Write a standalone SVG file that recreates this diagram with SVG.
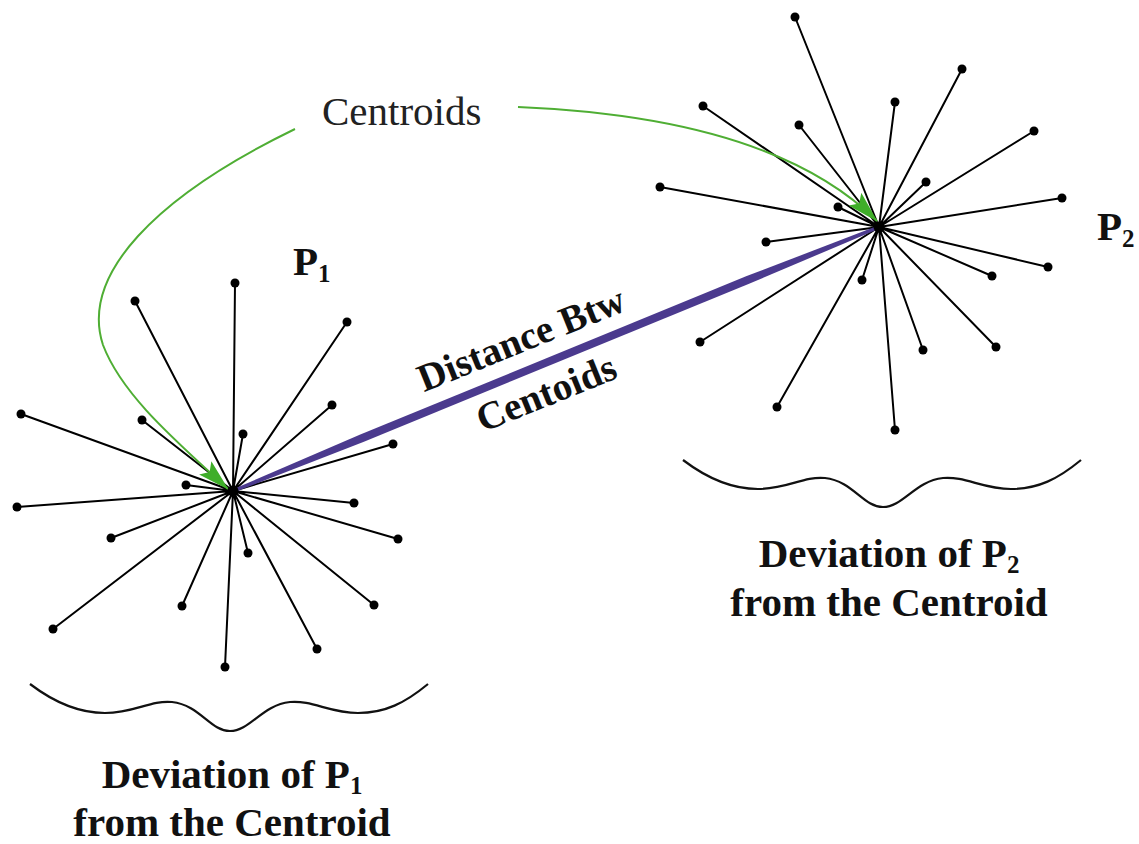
<svg xmlns="http://www.w3.org/2000/svg" width="1139" height="844" viewBox="0 0 1139 844">
<style>
.ray{stroke:#000;stroke-width:2;fill:none;stroke-linecap:round}
.dot{fill:#000}
.green{stroke:#4fae34;stroke-width:2;fill:none}
.brace{stroke:#111;stroke-width:2.2;fill:none}
.lbl{font-family:"Liberation Serif","Times New Roman",serif;font-weight:bold;fill:#111}
.big{font-size:41px}
.sub{font-size:25px}
</style>
<defs>
<marker id="garrow" markerUnits="userSpaceOnUse" markerWidth="34" markerHeight="20" refX="31" refY="9" orient="auto">
<path d="M0,0 L32,9 L0,18 L6,9 z" fill="#3fae29"/>
</marker>
</defs>
<rect width="1139" height="844" fill="#fff"/>

<g id="cluster-p1">
<path class="ray" d="M233,491L235,283M233,491L135,301M233,491L347,322M233,491L332,405M233,491L21,414M233,491L142,420M233,491L243,434M233,491L393,444M233,491L186,485M233,491L17,507M233,491L354,503M233,491L111,538M233,491L398,539M233,491L248,553M233,491L182,606M233,491L374,605M233,491L53,629M233,491L317,649M233,491L225,667"/>
<g class="dot">
<circle cx="235" cy="283" r="4.5"/><circle cx="135" cy="301" r="4.5"/><circle cx="347" cy="322" r="4.5"/><circle cx="332" cy="405" r="4.5"/><circle cx="21" cy="414" r="4.5"/><circle cx="142" cy="420" r="4.5"/><circle cx="243" cy="434" r="4.5"/><circle cx="393" cy="444" r="4.5"/><circle cx="186" cy="485" r="4.5"/><circle cx="17" cy="507" r="4.5"/><circle cx="354" cy="503" r="4.5"/><circle cx="111" cy="538" r="4.5"/><circle cx="398" cy="539" r="4.5"/><circle cx="248" cy="553" r="4.5"/><circle cx="182" cy="606" r="4.5"/><circle cx="374" cy="605" r="4.5"/><circle cx="53" cy="629" r="4.5"/><circle cx="317" cy="649" r="4.5"/><circle cx="225" cy="667" r="4.5"/>
</g>
</g>

<g id="cluster-p2">
<path class="ray" d="M879,227L795,17M879,227L962,69M879,227L703,106M879,227L895,102M879,227L799,125M879,227L1034,131M879,227L926,182M879,227L660,187M879,227L1062,198M879,227L838,207M879,227L766,242M879,227L1048,267M879,227L992,276M879,227L862,280M879,227L700,342M879,227L923,350M879,227L996,347M879,227L777,407M879,227L895,430"/>
<g class="dot">
<circle cx="795" cy="17" r="4.5"/><circle cx="962" cy="69" r="4.5"/><circle cx="703" cy="106" r="4.5"/><circle cx="895" cy="102" r="4.5"/><circle cx="799" cy="125" r="4.5"/><circle cx="1034" cy="131" r="4.5"/><circle cx="926" cy="182" r="4.5"/><circle cx="660" cy="187" r="4.5"/><circle cx="1062" cy="198" r="4.5"/><circle cx="838" cy="207" r="4.5"/><circle cx="766" cy="242" r="4.5"/><circle cx="1048" cy="267" r="4.5"/><circle cx="992" cy="276" r="4.5"/><circle cx="862" cy="280" r="4.5"/><circle cx="700" cy="342" r="4.5"/><circle cx="923" cy="350" r="4.5"/><circle cx="996" cy="347" r="4.5"/><circle cx="777" cy="407" r="4.5"/><circle cx="895" cy="430" r="4.5"/>
</g>
</g>

<g id="connectors">
<polygon fill="#4b3a8e" points="233.6,492.4 363.3,441.9 749.7,283.5 879.6,228.4 878.4,225.6 746.7,276.1 360.3,434.5 232.4,489.6"/>
<path class="green" d="M295,129 C155,197 80,275 103,345 C122,395 175,440 228,489" marker-end="url(#garrow)"/>
<path class="green" d="M518,107 C640,112 790,135 877,221" marker-end="url(#garrow)"/>
</g>

<g id="centroid-dots" class="dot">
<circle cx="233" cy="491" r="5.5"/>
<circle cx="879" cy="227" r="5.5"/>
</g>

<g id="label-centroids">
<text x="322" y="125" font-family="'Liberation Serif','Times New Roman',serif" font-size="41" fill="#222">Centroids</text>
</g>

<g id="label-p1">
<text class="lbl big" x="293" y="275">P<tspan class="sub" dy="7">1</tspan></text>
</g>
<g id="label-p2">
<text class="lbl big" x="1097" y="240">P<tspan class="sub" dy="7">2</tspan></text>
</g>

<g id="label-distance">
<text class="lbl" font-size="39" text-anchor="middle" transform="translate(526,351) rotate(-22)">Distance Btw</text>
<text class="lbl" font-size="39" text-anchor="middle" transform="translate(551,405) rotate(-22)">Centoids</text>
</g>

<g id="brace-p1">
<path class="brace" d="M30,684 C55,703 80,713 105,713 C135,713 150,700 172,702 C200,705 210,731 230,731 C250,731 262,705 290,702 C312,700 330,713 358,713 C385,713 405,703 428,684"/>
<text class="lbl big" x="232" y="788" text-anchor="middle">Deviation of P<tspan class="sub" dy="6">1</tspan></text>
<text class="lbl big" x="232" y="836" text-anchor="middle">from the Centroid</text>
</g>

<g id="brace-p2">
<path class="brace" transform="translate(653,-224)" d="M30,684 C55,703 80,713 105,713 C135,713 150,700 172,702 C200,705 210,731 230,731 C250,731 262,705 290,702 C312,700 330,713 358,713 C385,713 405,703 428,684"/>
<text class="lbl big" x="889" y="567" text-anchor="middle">Deviation of P<tspan class="sub" dy="6">2</tspan></text>
<text class="lbl big" x="889" y="616" text-anchor="middle">from the Centroid</text>
</g>
</svg>
